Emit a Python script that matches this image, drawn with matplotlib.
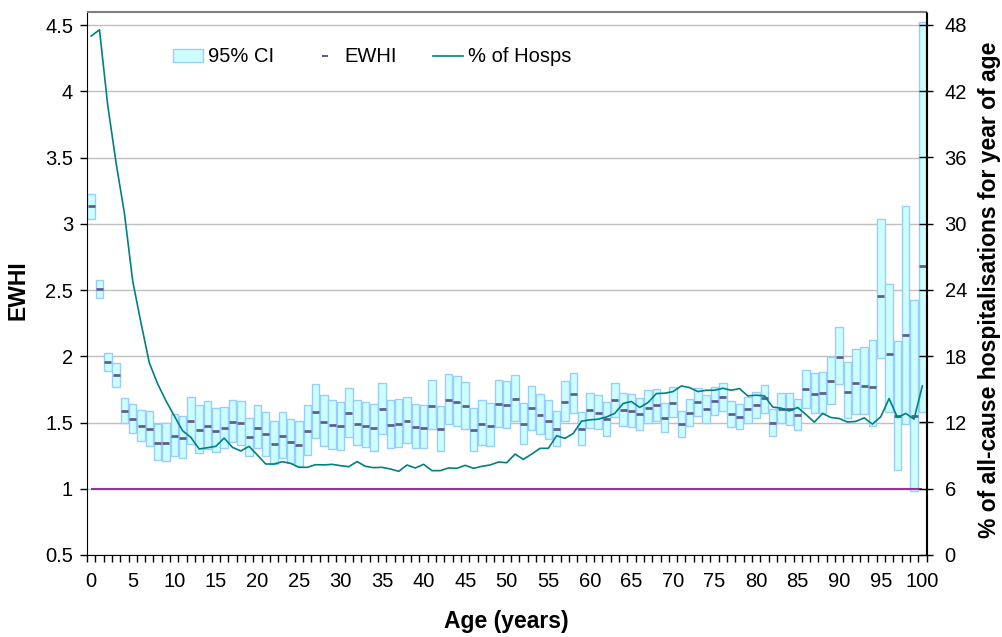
import numpy as np
import matplotlib
matplotlib.use("Agg")
import matplotlib.pyplot as plt
from matplotlib.patches import Patch
from matplotlib.lines import Line2D

plt.rcParams['font.family'] = ['Liberation Sans', 'DejaVu Sans']

# ---- data -------------------------------------------------------------
ages = list(range(0, 101))

ci_low = [3.034, 2.440, 1.886, 1.768, 1.498, 1.422, 1.362, 1.325, 1.217, 1.212,
          1.249, 1.229, 1.340, 1.272, 1.302, 1.277, 1.305, 1.352, 1.332, 1.247,
          1.305, 1.249, 1.187, 1.234, 1.192, 1.172, 1.257, 1.385, 1.325, 1.300,
          1.295, 1.392, 1.330, 1.312, 1.287, 1.417, 1.307, 1.317, 1.345, 1.307,
          1.307, 1.450, 1.287, 1.492, 1.472, 1.450, 1.282, 1.330, 1.320, 1.467,
          1.462, 1.513, 1.337, 1.445, 1.412, 1.375, 1.320, 1.508, 1.570, 1.330,
          1.462, 1.450, 1.400, 1.538, 1.472, 1.467, 1.442, 1.495, 1.513, 1.425,
          1.538, 1.387, 1.470, 1.550, 1.500, 1.558, 1.588, 1.467, 1.450, 1.497,
          1.533, 1.575, 1.400, 1.500, 1.482, 1.445, 1.613, 1.570, 1.570, 1.640,
          1.790, 1.532, 1.565, 1.562, 1.473, 1.989, 1.583, 1.144, 1.487, 0.986,
          1.583]

ewhi = [3.134, 2.507, 1.958, 1.858, 1.590, 1.530, 1.472, 1.450, 1.347, 1.347,
        1.400, 1.382, 1.510, 1.445, 1.472, 1.437, 1.457, 1.507, 1.495, 1.387,
        1.462, 1.412, 1.337, 1.397, 1.355, 1.330, 1.435, 1.580, 1.507, 1.480,
        1.470, 1.568, 1.492, 1.470, 1.457, 1.600, 1.480, 1.487, 1.508, 1.465,
        1.462, 1.628, 1.450, 1.671, 1.655, 1.623, 1.440, 1.490, 1.475, 1.640,
        1.630, 1.678, 1.488, 1.608, 1.553, 1.513, 1.450, 1.655, 1.718, 1.452,
        1.593, 1.575, 1.525, 1.668, 1.595, 1.588, 1.563, 1.613, 1.635, 1.535,
        1.650, 1.490, 1.575, 1.655, 1.603, 1.665, 1.693, 1.563, 1.545, 1.600,
        1.633, 1.683, 1.500, 1.605, 1.600, 1.558, 1.753, 1.718, 1.722, 1.815,
        1.998, 1.733, 1.795, 1.776, 1.771, 2.453, 2.014, 1.550, 2.164, 1.550,
        2.683]

ci_high = [3.224, 2.573, 2.026, 1.946, 1.683, 1.638, 1.593, 1.588, 1.490, 1.497,
           1.564, 1.550, 1.695, 1.630, 1.660, 1.613, 1.618, 1.673, 1.665, 1.537,
           1.630, 1.583, 1.512, 1.578, 1.525, 1.512, 1.630, 1.788, 1.708, 1.670,
           1.658, 1.761, 1.670, 1.655, 1.638, 1.798, 1.668, 1.680, 1.693, 1.643,
           1.633, 1.821, 1.625, 1.863, 1.851, 1.808, 1.613, 1.668, 1.648, 1.821,
           1.813, 1.856, 1.645, 1.773, 1.713, 1.670, 1.588, 1.813, 1.873, 1.580,
           1.723, 1.706, 1.653, 1.796, 1.720, 1.713, 1.683, 1.745, 1.756, 1.648,
           1.766, 1.588, 1.680, 1.763, 1.706, 1.771, 1.796, 1.660, 1.638, 1.696,
           1.733, 1.783, 1.600, 1.720, 1.720, 1.675, 1.896, 1.870, 1.880, 1.994,
           2.219, 1.954, 2.051, 2.069, 2.120, 3.034, 2.547, 2.114, 3.137, 2.427,
           4.520]

pct_hosps = [47.00, 47.56, 40.70, 35.50, 30.96, 24.80, 21.00, 17.40, 15.50, 13.96,
             12.60, 11.25, 10.65, 9.60, 9.72, 9.84, 10.59, 9.75, 9.42, 9.84,
             9.05, 8.24, 8.24, 8.45, 8.30, 7.94, 7.94, 8.18, 8.16, 8.21,
             8.09, 8.00, 8.46, 8.03, 7.91, 7.94, 7.79, 7.58, 8.15, 7.88,
             8.21, 7.64, 7.64, 7.88, 7.85, 8.12, 7.85, 8.03, 8.15, 8.42,
             8.36, 9.14, 8.66, 9.14, 9.66, 9.66, 10.80, 10.56, 11.01, 12.12,
             12.24, 12.30, 12.50, 12.83, 13.72, 13.90, 13.36, 13.81, 14.62, 14.65,
             14.80, 15.31, 15.16, 14.80, 14.92, 14.92, 15.10, 14.92, 15.07, 14.41,
             14.47, 14.41, 13.40, 13.30, 13.05, 13.36, 12.72, 12.03, 12.82, 12.45,
             12.36, 12.04, 12.10, 12.42, 11.85, 12.52, 14.17, 12.45, 12.82, 12.30,
             15.31]

reference_ewhi = 1.0

x_tick_values = list(range(0, 101, 5))
x_tick_labels = [str(v) for v in x_tick_values]
ewhi_ticks = [0.5, 1.0, 1.5, 2.0, 2.5, 3.0, 3.5, 4.0, 4.5]
ewhi_tick_labels = ['0.5', '1', '1.5', '2', '2.5', '3', '3.5', '4', '4.5']
pct_ticks = [0, 6, 12, 18, 24, 30, 36, 42, 48]
pct_tick_labels = [str(v) for v in pct_ticks]

# ---- styling ----------------------------------------------------------
BOX_FACE = '#CCFFFF'
BOX_EDGE = '#99CCFF'
MID_COLOR = '#5F5F8F'
HOSP_COLOR = '#008080'
REF_COLOR = '#993399'
GRID_COLOR = '#C0C0C0'
FS_TICK = 14.5
FS_TITLE = 16.5

ages_a = np.asarray(ages, dtype=float)
low_a = np.asarray(ci_low)
high_a = np.asarray(ci_high)

fig = plt.figure(figsize=(10.02, 6.37), dpi=100)
ax = fig.add_axes([87 / 1002, 82 / 637, 839.5 / 1002, 543.5 / 637])

# confidence interval boxes and point estimates
ax.bar(ages_a, high_a - low_a, bottom=low_a, width=0.9,
       color=BOX_FACE, edgecolor=BOX_EDGE, linewidth=1.0, zorder=2)
ax.hlines(ewhi, ages_a - 0.42, ages_a + 0.42, colors=MID_COLOR,
          linewidth=2.0, zorder=3)
ax.hlines(reference_ewhi, ages_a[0], ages_a[-1], colors=REF_COLOR,
          linewidth=1.5, zorder=3)

ax.set_xlim(-0.5, 100.5)
ax.set_ylim(0.5, 4.602)
ax.set_axisbelow(True)
ax.yaxis.grid(True, color=GRID_COLOR, linewidth=1.0)

ax.set_yticks(ewhi_ticks)
ax.set_yticklabels(ewhi_tick_labels)
ax.tick_params(axis='y', direction='out', length=5, width=1,
               labelsize=FS_TICK, pad=5)

ax.set_xticks(x_tick_values)
ax.set_xticklabels(x_tick_labels)
ax.set_xticks(np.arange(-0.5, 101, 1), minor=True)
ax.tick_params(axis='x', which='major', length=0, labelsize=FS_TICK, pad=12)
ax.tick_params(axis='x', which='minor', direction='out', length=5, width=1)

for side in ('left', 'bottom', 'right'):
    ax.spines[side].set_color('black')
ax.spines['top'].set_color('#808080')

# share of hospitalisations on the secondary axis
ax2 = ax.twinx()
ax2.plot(ages_a, pct_hosps, color=HOSP_COLOR, linewidth=1.2, zorder=4)
ax2.set_ylim(0, 49.22)
ax2.set_yticks(pct_ticks)
ax2.set_yticklabels(pct_tick_labels)
ax2.tick_params(axis='y', direction='inout', length=10, width=1,
                labelsize=FS_TICK, pad=8)
ax2.spines['top'].set_color('#808080')
ax2.spines['right'].set_color('black')
ax2.spines['left'].set_visible(False)
ax2.spines['bottom'].set_visible(False)

# axis titles
ax.set_xlabel('Age (years)', fontsize=FS_TITLE, fontweight='bold')
ax.xaxis.set_label_coords(0.5, -0.123)
ax.xaxis.label.set_va('center')

ax.set_ylabel('EWHI', fontsize=FS_TITLE, fontweight='bold')
ax.yaxis.set_label_coords(-0.082, 0.4876)
ax.yaxis.label.set_va('center')
ax.yaxis.label.set_ha('center')

ax2.set_ylabel('% of all-cause hospitalisations for year of age',
               fontsize=FS_TITLE, fontweight='bold')
ax2.yaxis.set_label_coords(1.0745, 0.4876)
ax2.yaxis.label.set_va('center')
ax2.yaxis.label.set_ha('center')

# legend
handles = [
    Patch(facecolor=BOX_FACE, edgecolor=BOX_EDGE, linewidth=1.0),
    Line2D([], [], linestyle='none', marker='_', markersize=5,
           markeredgewidth=1.5, color=MID_COLOR),
    Line2D([], [], color=HOSP_COLOR, linewidth=1.2),
]
fig.legend(handles, ['95% CI', 'EWHI', '% of Hosps'],
           loc='center left', bbox_to_anchor=(173 / 1002, 1 - 57 / 637),
           ncol=3, frameon=False, fontsize=FS_TICK, handlelength=1.5,
           handleheight=0.62, handletextpad=0.25, columnspacing=1.75,
           borderpad=0, borderaxespad=0)

fig.savefig('out.png', dpi=100)
